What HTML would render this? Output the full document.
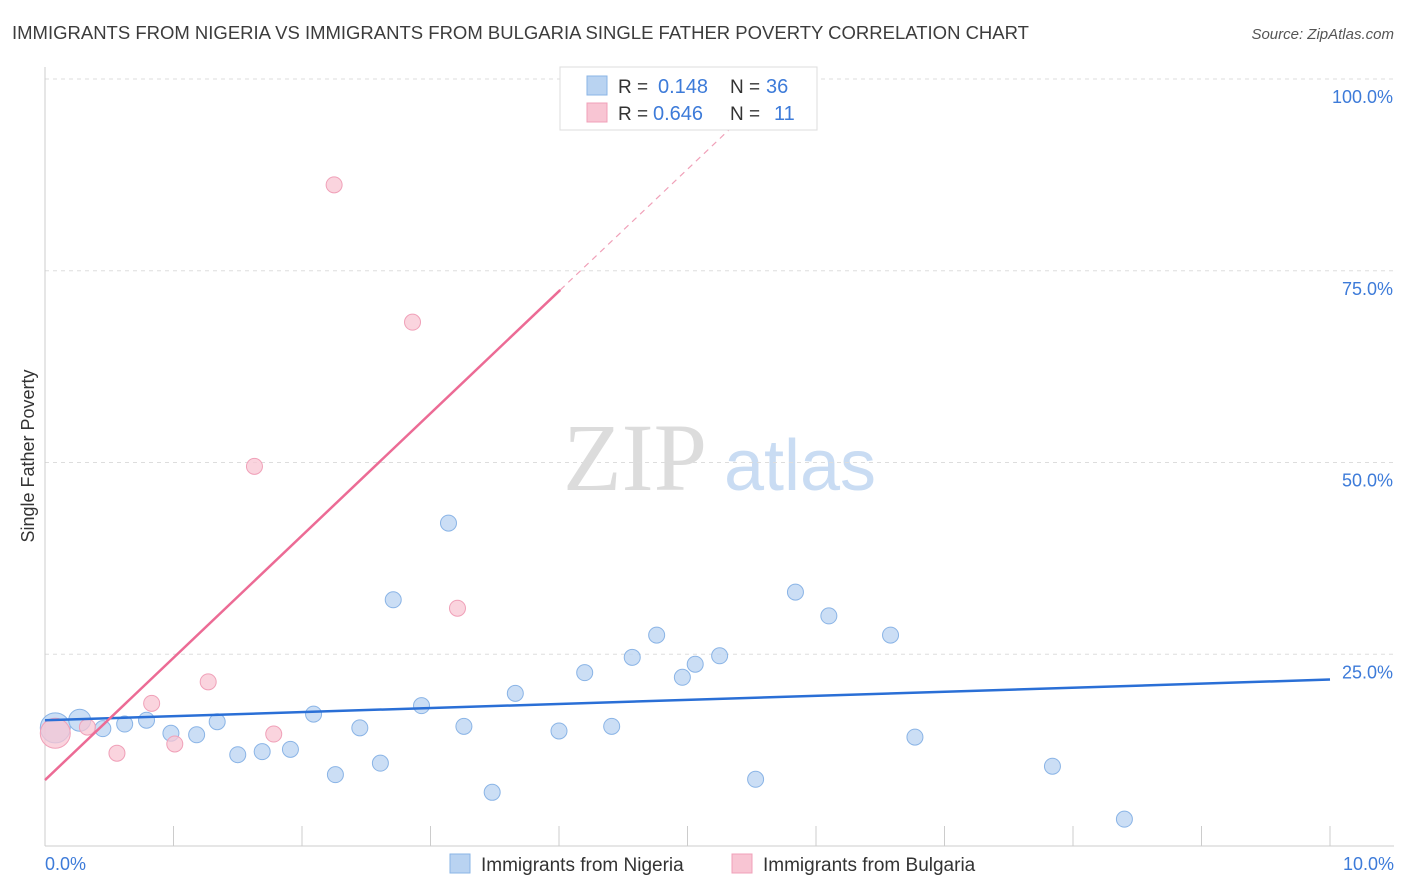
<!DOCTYPE html>
<html><head><meta charset="utf-8"><style>
body{margin:0;background:#fff;font-family:"Liberation Sans",sans-serif;}
svg{display:block}
</style></head><body>
<svg id="chart" width="1406" height="892" xmlns="http://www.w3.org/2000/svg" font-family="Liberation Sans, sans-serif">
<text x="12" y="39" font-size="18.5" fill="#3c3c3c">IMMIGRANTS FROM NIGERIA VS IMMIGRANTS FROM BULGARIA SINGLE FATHER POVERTY CORRELATION CHART</text>
<text x="1394" y="39" font-size="15" fill="#555" text-anchor="end" font-style="italic">Source: ZipAtlas.com</text>
<text transform="translate(34,456) rotate(-90)" font-size="18" fill="#333" text-anchor="middle">Single Father Poverty</text>
<g><text x="635" y="490" font-size="96" fill="#dcdcdc" text-anchor="middle" font-family="Liberation Serif, serif">ZIP</text><text x="800" y="490" font-size="72" fill="#c9dcf3" text-anchor="middle">atlas</text></g>
<g id="grid"></g><g id="axes"></g><g id="marks"></g>
<g>
<rect x="560" y="67" width="257" height="63" fill="#fff" stroke="#ddd"/>
<rect x="587" y="76" width="20" height="19" fill="#b9d3f1" stroke="#8ab4e6"/>
<rect x="587" y="103" width="20" height="19" fill="#f8c5d3" stroke="#f0a0b8"/>
<text x="618" y="93" font-size="19" fill="#333">R =</text>
<text x="658" y="93" font-size="20" fill="#3d7bd9">0.148</text>
<text x="730" y="93" font-size="19" fill="#333">N =</text>
<text x="766" y="93" font-size="20" fill="#3d7bd9">36</text>
<text x="618" y="120" font-size="19" fill="#333">R =</text>
<text x="653" y="120" font-size="20" fill="#3d7bd9">0.646</text>
<text x="730" y="120" font-size="19" fill="#333">N =</text>
<text x="774" y="120" font-size="20" fill="#3d7bd9">11</text>
</g>
<g>
<rect x="450" y="854" width="20" height="19" fill="#b9d3f1" stroke="#8ab4e6"/>
<text x="481" y="871" font-size="19" fill="#333">Immigrants from Nigeria</text>
<rect x="732" y="854" width="20" height="19" fill="#f8c5d3" stroke="#f0a0b8"/>
<text x="763" y="871" font-size="19" fill="#333">Immigrants from Bulgaria</text>
</g>
</svg>
<script>
const yTicks=[25,50,75,100];
const yTickLabels=["25.0%","50.0%","75.0%","100.0%"];
const xTicks=[0,1,2,3,4,5,6,7,8,9,10];
const nigeriaX=[0.08,0.27,0.45,0.62,0.79,0.98,1.18,1.34,1.50,1.69,1.91,2.09,2.26,2.45,2.61,2.71,2.93,3.14,3.26,3.48,3.66,4.00,4.20,4.41,4.57,4.76,4.96,5.06,5.25,5.53,5.84,6.10,6.58,6.77,7.84,8.40];
const nigeriaY=[15.4,16.4,15.3,15.9,16.4,14.7,14.5,16.2,11.9,12.3,12.6,17.2,9.3,15.4,10.8,32.1,18.3,42.1,15.6,7.0,19.9,15.0,22.6,15.6,24.6,27.5,22.0,23.7,24.8,8.7,33.1,30.0,27.5,14.2,10.4,3.5];
const bulgariaX=[0.08,0.33,0.56,0.83,1.01,1.27,1.63,1.78,2.25,2.86,3.21];
const bulgariaY=[14.7,15.5,12.1,18.6,13.3,21.4,49.5,14.6,86.2,68.3,31.0];
const nigeriaTrend=[16.4,21.7];
const bulgariaTrend=[8.6,72.5,100];
const bulgariaTrendX=[0,4.01,5.74];
const NS="http://www.w3.org/2000/svg";
const X=v=>45+v*128.5, Y=v=>846-v*7.67;
function mk(t,a,p){const e=document.createElementNS(NS,t);for(const k in a)e.setAttribute(k,a[k]);document.getElementById(p).appendChild(e);return e;}
let e;
e=mk('line',{x1:45,x2:1394,y1:Y(100),y2:Y(100),stroke:'#ddd','stroke-dasharray':'4,4'},'grid');
yTicks.forEach((t,i)=>{
 e=mk('line',{x1:45,x2:1394,y1:Y(t),y2:Y(t),stroke:'#ddd','stroke-dasharray':'4,4'},'grid');
 
 
 e=mk('text',{x:1393,y:Y(t)+24,'font-size':18,fill:'#3d7bd9','text-anchor':'end'},'axes');
 e.textContent=yTickLabels[i];
 
 
});
mk('line',{x1:45,x2:45,y1:67,y2:846,stroke:'#ccc'},'axes');
mk('line',{x1:45,x2:1394,y1:846,y2:846,stroke:'#ccc'},'axes');
xTicks.forEach(t=>{
 e=mk('line',{x1:X(t),x2:X(t),y1:826,y2:846,stroke:'#ccc'},'axes');
 
 
});
e=mk('text',{x:45,y:870,'font-size':18,fill:'#3d7bd9'},'axes');e.textContent='0.0%';


e=mk('text',{x:1394,y:870,'font-size':18,fill:'#3d7bd9','text-anchor':'end'},'axes');e.textContent='10.0%';


nigeriaX.forEach((x,i)=>{
 e=mk('circle',{cx:X(x),cy:Y(nigeriaY[i]),r:i==0?15:(i==1?11:8),fill:'#b9d3f1','fill-opacity':0.75,stroke:'#8ab4e6'},'marks');
 
 
});
bulgariaX.forEach((x,i)=>{
 e=mk('circle',{cx:X(x),cy:Y(bulgariaY[i]),r:i==0?15:8,fill:'#f8c5d3','fill-opacity':0.75,stroke:'#f0a0b8'},'marks');
 
 
});
e=mk('line',{x1:X(0),y1:Y(nigeriaTrend[0]),x2:X(10),y2:Y(nigeriaTrend[1]),stroke:'#2a6fd6','stroke-width':2.5},'marks');


e=mk('line',{x1:X(bulgariaTrendX[0]),y1:Y(bulgariaTrend[0]),x2:X(bulgariaTrendX[1]),y2:Y(bulgariaTrend[1]),stroke:'#ec6b95','stroke-width':2.5},'marks');


e=mk('line',{x1:X(bulgariaTrendX[1]),y1:Y(bulgariaTrend[1]),x2:X(bulgariaTrendX[2]),y2:Y(bulgariaTrend[2]),stroke:'#f0a0b8','stroke-width':1.2,'stroke-dasharray':'6,5'},'marks');


</script>
</body></html>
